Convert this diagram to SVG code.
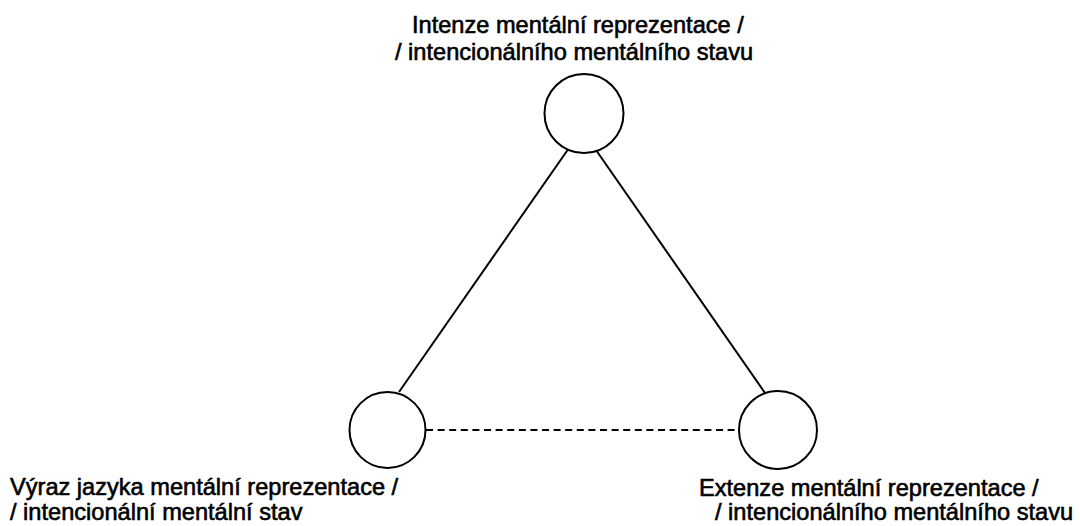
<svg xmlns="http://www.w3.org/2000/svg" width="1080" height="526" viewBox="0 0 1080 526">
  <style>
    .node { fill: #fff; stroke: #000; stroke-width: 2; }
    .edge { stroke: #000; stroke-width: 2; fill: none; }
    .dashed { stroke-width: 2.2; stroke-dasharray: 7 4.6; }
    .label { font-family: "Liberation Sans", Arial, sans-serif; font-size: 23.6px; fill: #000; stroke: #000; stroke-width: 0.6; }
  </style>
  <rect width="1080" height="526" fill="#fff"/>

  <!-- connectors of the triangle -->
  <g id="connectors">
    <line class="edge" x1="569" y1="148" x2="399" y2="392"/>
    <line class="edge" x1="596" y1="150" x2="765" y2="393"/>
    <line class="edge dashed" x1="426" y1="430" x2="739" y2="430"/>
  </g>

  <g id="intenze">
    <circle class="node" cx="584" cy="113.5" r="39.5"/>
    <text class="label" x="412" y="33">Intenze mentální reprezentace /</text>
    <text class="label" x="395" y="60">/ intencionálního mentálního stavu</text>
  </g>

  <g id="vyraz">
    <circle class="node" cx="387.5" cy="430" r="38"/>
    <text class="label" x="10" y="495">Výraz jazyka mentální reprezentace /</text>
    <text class="label" x="10" y="520">/ intencionální mentální stav</text>
  </g>

  <g id="extenze">
    <circle class="node" cx="778" cy="430" r="39"/>
    <text class="label" x="699" y="496">Extenze mentální reprezentace /</text>
    <text class="label" x="715" y="520">/ intencionálního mentálního stavu</text>
  </g>
</svg>
